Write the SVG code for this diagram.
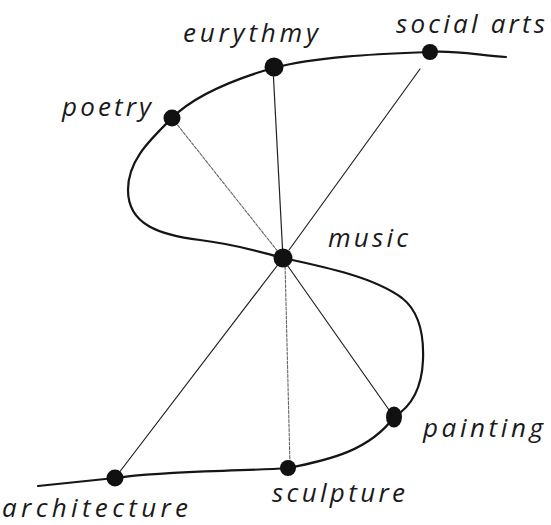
<svg xmlns="http://www.w3.org/2000/svg" width="551" height="525" viewBox="0 0 551 525">
<style>
.curve{fill:none;stroke:#151515;stroke-width:2.2;stroke-linecap:round;stroke-linejoin:round}
.spoke{fill:none;stroke:#222;stroke-width:1.2;stroke-linecap:round}
.faint{fill:none;stroke:#666;stroke-width:1.1;stroke-dasharray:3 1.5;stroke-linecap:round}
.dot{fill:#111}
.lbl{font-family:"Open Sans","DejaVu Sans",sans-serif;font-style:italic;font-size:26px;fill:#1a1a1a}
</style>
<rect width="551" height="525" fill="#fff"/>
<g id="connectors">
<path class="curve" d="M 506,57 C 482,56 456,50 430,52 C 380,54 318,56 273,68 C 232,80 195,95 172,118 C 150,140 128,160 128,190 C 128,225 160,235 200,240 C 240,245 260,252 283,258 C 330,268 375,278 402,298 C 420,312 424,335 423,360 C 422,385 414,405 394,417 C 370,450 330,460 288,468 C 230,472 170,470 115,478 L 38,486"/>
<line class="faint" x1="283" y1="258" x2="172" y2="118"/>
<line class="spoke" x1="283" y1="258" x2="273" y2="68"/>
<line class="spoke" x1="289" y1="250" x2="420" y2="69"/>
<line class="spoke" x1="283" y1="258" x2="115" y2="478"/>
<line class="faint" x1="285" y1="262" x2="290" y2="466"/>
<line class="spoke" x1="285" y1="262" x2="394" y2="417"/>
</g>
<g id="social-arts"><circle class="dot" cx="430" cy="52" r="8"/><text class="lbl" x="396" y="33" textLength="149" lengthAdjust="spacing">social arts</text></g>
<g id="eurythmy"><circle class="dot" cx="274" cy="67" r="9.5"/><text class="lbl" x="183" y="42" textLength="135" lengthAdjust="spacing">eurythmy</text></g>
<g id="poetry"><circle class="dot" cx="172" cy="118" r="8.5"/><text class="lbl" x="62" y="116" textLength="89" lengthAdjust="spacing">poetry</text></g>
<g id="music"><circle class="dot" cx="283" cy="258" r="9.5"/><text class="lbl" x="328" y="247" textLength="80" lengthAdjust="spacing">music</text></g>
<g id="painting"><ellipse class="dot" cx="394" cy="417" rx="8" ry="10.5"/><text class="lbl" x="423" y="437" textLength="120" lengthAdjust="spacing">painting</text></g>
<g id="sculpture"><circle class="dot" cx="288" cy="468" r="8"/><text class="lbl" x="272" y="502" textLength="133" lengthAdjust="spacing">sculpture</text></g>
<g id="architecture"><circle class="dot" cx="115" cy="478" r="8.5"/><text class="lbl" x="2" y="517" textLength="186" lengthAdjust="spacing">architecture</text></g>
</svg>
